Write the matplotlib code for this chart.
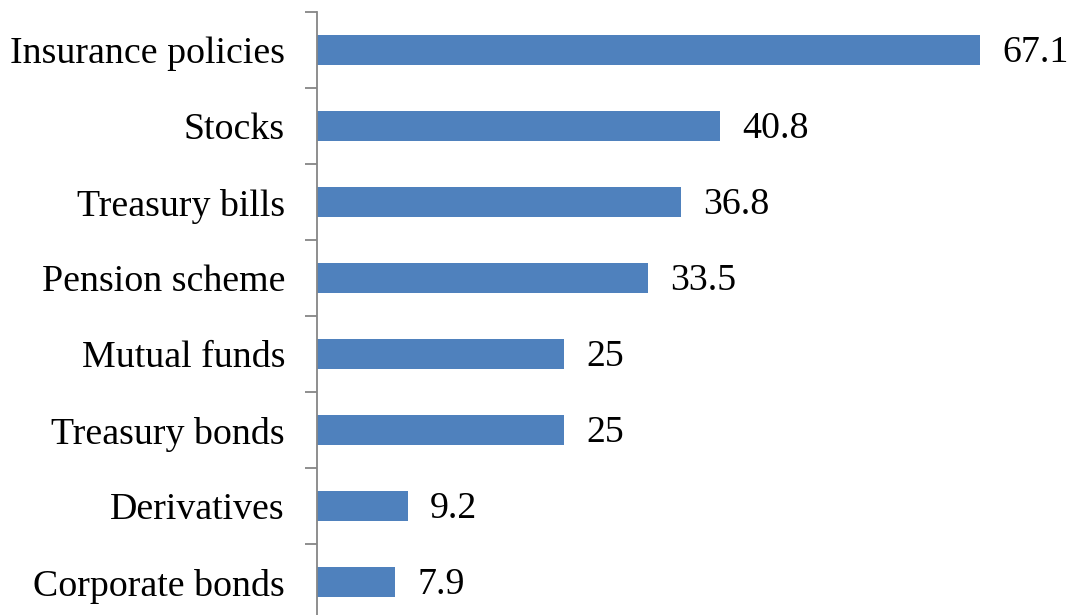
import matplotlib
matplotlib.use('Agg')
from matplotlib import pyplot as plt
import numpy as np

categories = ['Insurance policies', 'Stocks', 'Treasury bills', 'Pension scheme',
              'Mutual funds', 'Treasury bonds', 'Derivatives', 'Corporate bonds']
values = [67.1, 40.8, 36.8, 33.5, 25, 25, 9.2, 7.9]
value_labels = ['67.1', '40.8', '36.8', '33.5', '25', '25', '9.2', '7.9']

plt.rcParams['font.family'] = ['Liberation Serif', 'DejaVu Serif']

fig = plt.figure(figsize=(10.72, 6.15), dpi=100)
ax = fig.add_axes([317 / 1072, -5 / 615, 1 - 317 / 1072, 608 / 615])

y = np.arange(len(categories))
ax.barh(y, values, height=0.4, color='#4F81BD')

for yi, v, lab in zip(y, values, value_labels):
    ax.annotate(lab, xy=(v, yi), xytext=(16, -2), textcoords='offset points',
                ha='left', va='center', fontsize=27.3, color='black')

ax.set_xlim(0, 76.4)
ax.set_ylim(len(categories) - 0.5, -0.5)

ax.set_yticks(y)
ax.set_yticklabels(categories, fontsize=27.3)
ax.tick_params(axis='y', which='major', length=0, pad=23)
ax.set_yticks(np.arange(len(categories) + 1) - 0.5, minor=True)
ax.tick_params(axis='y', which='minor', length=8.6, width=1.3, color='#868686')
ax.set_xticks([])

for side in ['top', 'right', 'bottom']:
    ax.spines[side].set_visible(False)
ax.spines['left'].set_color('#868686')
ax.spines['left'].set_linewidth(1.3)

fig.savefig('out.png', dpi=100)
